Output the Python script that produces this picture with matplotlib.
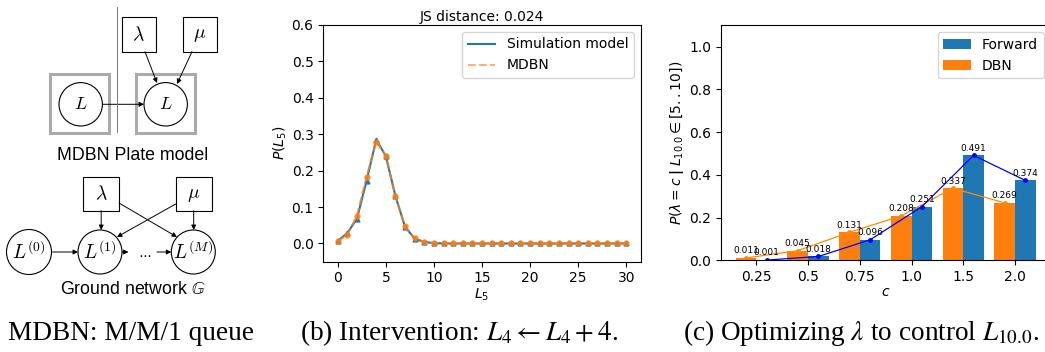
import numpy as np
import matplotlib
matplotlib.use("Agg")
import matplotlib.pyplot as plt
from matplotlib.patches import Circle, Rectangle, FancyArrowPatch
from matplotlib.lines import Line2D

# ---------------- data ----------------
L_vals = [0, 1, 2, 3, 4, 5, 6, 7, 8, 9, 10, 11, 12, 13, 14, 15,
          16, 17, 18, 19, 20, 21, 22, 23, 24, 25, 26, 27, 28, 29, 30]
sim_p = [0.007, 0.029, 0.068, 0.172, 0.285, 0.240, 0.130, 0.046, 0.013, 0.004, 0.001,
         0.0, 0.0, 0.0, 0.0, 0.0, 0.0, 0.0, 0.0, 0.0, 0.0,
         0.0, 0.0, 0.0, 0.0, 0.0, 0.0, 0.0, 0.0, 0.0, 0.0]
mdbn_p = [0.006, 0.024, 0.076, 0.183, 0.280, 0.241, 0.130, 0.047, 0.014, 0.004, 0.001,
          0.0, 0.0, 0.0, 0.0, 0.0, 0.0, 0.0, 0.0, 0.0, 0.0,
          0.0, 0.0, 0.0, 0.0, 0.0, 0.0, 0.0, 0.0, 0.0, 0.0]
js_distance = 0.024

c_labels = ['0.25', '0.5', '0.75', '1.0', '1.5', '2.0']
dbn_vals = [0.011, 0.045, 0.131, 0.208, 0.337, 0.269]
forward_vals = [0.001, 0.018, 0.096, 0.251, 0.491, 0.374]

# ---------------- figure ----------------
W, H = 1045, 352
fig = plt.figure(figsize=(W / 100, H / 100), dpi=100)

# ---------- panel (a): diagram, drawn in pixel coordinates ----------
axd = fig.add_axes([0, 0, 1, 1])
axd.set_xlim(0, W)
axd.set_ylim(H, 0)
axd.axis('off')
axd.set_zorder(-1)

def circ(cx, cy, r):
    axd.add_patch(Circle((cx, cy), r, fill=False, lw=0.8, ec='black'))

def box(x0, y0, x1, y1, lw=0.8, ec='black'):
    axd.add_patch(Rectangle((x0, y0), x1 - x0, y1 - y0, fill=False, lw=lw, ec=ec))

def arrow(p, q):
    axd.add_patch(FancyArrowPatch(p, q, arrowstyle='-|>', mutation_scale=7,
                                  lw=0.7, color='black', shrinkA=0, shrinkB=0))

nodefs = 13
# plate model
axd.plot([117.3, 117.3], [6.7, 131.7], color='#777777', lw=0.7)
box(50, 74, 109, 132.7, lw=2.2, ec='#aaaaaa')
box(136, 74, 195, 132.7, lw=2.2, ec='#aaaaaa')
circ(80.7, 104.3, 21.7)
circ(165.7, 104.3, 21.7)
axd.text(80.7, 104.3, r'$L$', ha='center', va='center', fontsize=nodefs, math_fontfamily='cm')
axd.text(165.7, 104.3, r'$L$', ha='center', va='center', fontsize=nodefs, math_fontfamily='cm')
box(121.7, 17.3, 155.7, 51.7)
box(182.7, 17.3, 217.3, 51.7)
axd.text(138.7, 34.5, r'$\lambda$', ha='center', va='center', fontsize=nodefs + 1, math_fontfamily='cm')
axd.text(200, 34.5, r'$\mu$', ha='center', va='center', fontsize=nodefs + 1, math_fontfamily='cm')
arrow((145, 51.7), (157, 83))
arrow((192, 51.7), (177, 84))
arrow((102.4, 104.3), (144, 104.3))
axd.text(132.7, 155, 'MDBN Plate model', ha='center', va='center', fontsize=12.8,
         family='Liberation Sans')

# ground network
gy = 252.0
gr = 22.0
box(83.3, 177.3, 119, 210.7)
box(175.7, 177.3, 211.7, 210.7)
axd.text(101.2, 194, r'$\lambda$', ha='center', va='center', fontsize=nodefs + 1, math_fontfamily='cm')
axd.text(193.7, 194, r'$\mu$', ha='center', va='center', fontsize=nodefs + 1, math_fontfamily='cm')
circ(29, gy, gr + 0.5)
circ(100, gy, gr)
circ(193.3, gy, gr)
axd.text(29, gy, r'$L^{(0)}$', ha='center', va='center', fontsize=nodefs + 1, math_fontfamily='cm')
axd.text(100, gy, r'$L^{(1)}$', ha='center', va='center', fontsize=nodefs + 1, math_fontfamily='cm')
axd.text(193.3, gy, r'$L^{(M)}$', ha='center', va='center', fontsize=nodefs + 1, math_fontfamily='cm')
arrow((52.5, gy), (78, gy))
arrow((122, gy), (128.5, gy))
axd.text(145, gy + 2, r'$\cdots$', ha='center', va='center', fontsize=10, math_fontfamily='cm')
arrow((157, gy), (171.3, gy))
arrow((101.2, 210.7), (101.2, gy - gr))
arrow((193.7, 210.7), (193.7, gy - gr))
arrow((119, 203), (177, 237))
arrow((175.7, 204), (117, 237))
axd.text(132.5, 290, r'Ground network $\mathbb{G}$', ha='center', va='center', fontsize=12.8,
         family='Liberation Sans', math_fontfamily='stix')

# ---------- panel (b) ----------
axb = fig.add_axes([323.3 / W, 1 - 261.7 / H, (640.7 - 323.3) / W, (261.7 - 25) / H])
axb.plot(L_vals, sim_p, color='C0', lw=1.5, marker='^', ms=3.5)
axb.plot(L_vals, mdbn_p, color='C1', lw=1.5, ls='--', marker='o', ms=3.5, alpha=0.8)
axb.set_ylim(-0.05, 0.6)
axb.set_yticks([0.0, 0.1, 0.2, 0.3, 0.4, 0.5, 0.6])
axb.set_xticks([0, 5, 10, 15, 20, 25, 30])
axb.set_xlabel(r'$L_5$', fontsize=10, labelpad=1)
axb.set_ylabel(r'$P(L_5)$', fontsize=10, labelpad=2)
axb.set_title(f'JS distance: {js_distance:.3f}', fontsize=10, pad=3)
leg_handles = [Line2D([], [], color='C0', lw=1.5),
               Line2D([], [], color='C1', lw=1.5, ls='--', alpha=0.6)]
axb.legend(leg_handles, ['Simulation model', 'MDBN'], loc='upper right', fontsize=10)

# ---------- panel (c) ----------
axc = fig.add_axes([720.7 / W, 1 - 260.3 / H, (1050.6 - 720.7) / W, (260.3 - 25.3) / H])
x = np.arange(len(c_labels))
bw = 0.4
b_dbn = axc.bar(x - bw / 2, dbn_vals, bw, color='C1', label='DBN')
b_fwd = axc.bar(x + bw / 2, forward_vals, bw, color='C0', label='Forward')
axc.plot(x - bw / 2, dbn_vals, color='darkorange', lw=0.9, marker='o', ms=2.5)
axc.plot(x + bw / 2, forward_vals, color='blue', lw=0.9, marker='o', ms=2.5)
for xi, v in zip(x - bw / 2, dbn_vals):
    axc.annotate(f'{v:.3f}', (xi, v), xytext=(0, 2), textcoords='offset points',
                 ha='center', va='bottom', fontsize=6.5)
for xi, v in zip(x + bw / 2, forward_vals):
    axc.annotate(f'{v:.3f}', (xi, v), xytext=(0, 2), textcoords='offset points',
                 ha='center', va='bottom', fontsize=6.5)
axc.set_ylim(0, 1.1)
axc.set_yticks([0.0, 0.2, 0.4, 0.6, 0.8, 1.0])
axc.set_xticks(x)
axc.set_xticklabels(c_labels)
axc.set_xlabel(r'$c$', fontsize=10, labelpad=1)
axc.set_ylabel(r'$P(\lambda = c\;\mathbf{|}\;L_{10.0}\in[5..10])$', fontsize=10, labelpad=2)
axc.legend([b_fwd, b_dbn], ['Forward', 'DBN'], loc='upper right', fontsize=10)

for a in (axb, axc):
    a.tick_params(labelsize=10)

# ---------- captions ----------
capfs = 19.6
fig.text(131 / W, 1 - 333 / H, 'MDBN: M/M/1 queue', ha='center', va='center',
         fontsize=capfs, family='Liberation Serif')
fig.text(459 / W, 1 - 333 / H, r'(b) Intervention: $L_4 \leftarrow L_4+4$.', ha='center',
         va='center', fontsize=capfs, family='Liberation Serif', math_fontfamily='stix')
fig.text(861 / W, 1 - 333 / H, r'(c) Optimizing $\lambda$ to control $L_{10.0}$.', ha='center',
         va='center', fontsize=capfs, family='Liberation Serif', math_fontfamily='stix')

fig.savefig('out.png', dpi=100)
